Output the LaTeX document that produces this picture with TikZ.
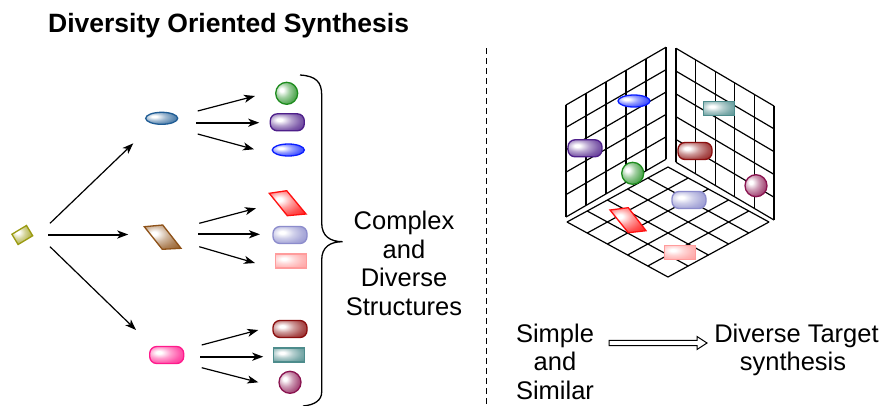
\documentclass[tikz,border=0pt]{standalone}
\usepackage{fontspec}
\setmainfont{Liberation Sans}
\usetikzlibrary{shapes.geometric,arrows.meta,calc}
\colorlet{glosscol}{black}
\pgfdeclareradialshading[glosscol]{gloss}{\pgfpoint{-12bp}{8bp}}{color(0bp)=(white); color(4bp)=(white); color(16bp)=(glosscol!42!white); color(28bp)=(glosscol!72!white); color(40bp)=(glosscol!92!white); color(100bp)=(glosscol)}
\definecolor{olivec}{HTML}{9A9A10}
\definecolor{steelc}{HTML}{1F5C94}
\definecolor{brownc}{HTML}{8E5219}
\definecolor{hotpk}{HTML}{FF1A8C}
\definecolor{greenc}{HTML}{1E8C1E}
\definecolor{purpc}{HTML}{4E1F8A}
\definecolor{bluec}{HTML}{0A1EFF}
\definecolor{redc}{HTML}{FF1010}
\definecolor{lavc}{HTML}{8C8CCC}
\definecolor{ltpk}{HTML}{FF9C9C}
\definecolor{dredc}{HTML}{8A0E0E}
\definecolor{tealc}{HTML}{4D8C8C}
\definecolor{maroc}{HTML}{8A1450}
\begin{document}
\begin{tikzpicture}[x=1pt,y=-1pt,
 gl/.style={draw=#1, line width=1.3pt, shade, shading=gloss, /utils/exec={\colorlet{glosscol}{#1}}},
 ell/.style={ellipse, inner sep=0pt, minimum width=32pt, minimum height=12pt},
 rrect/.style={rectangle, rounded corners=7pt, inner sep=0pt, minimum width=34pt, minimum height=17pt},
 srect/.style={rectangle, inner sep=0pt, minimum width=31pt, minimum height=14pt},
 sph/.style={circle, inner sep=0pt, minimum size=22pt},
 arr/.style={-{Stealth[length=11pt,width=8pt,inset=3pt]}, line width=1.2pt},
 tarr/.style={arr, line width=2pt},
 gridln/.style={line width=1.2pt},
 txt/.style={font=\fontsize{25.5}{30}\selectfont, inner sep=0pt, anchor=base}
]
\useasboundingbox (0,0) rectangle (887,405);
\fill[white] (0,0) rectangle (887,405);

% title
\node[anchor=base west, inner sep=0pt, font=\fontsize{26.5}{30}\selectfont\bfseries] (title) at (48,32.7) {Diversity Oriented Synthesis};

% left: start and intermediates
\node[gl=olivec, rectangle, inner sep=0pt, minimum width=17pt, minimum height=12pt, rotate=31] (s0) at (22.3,235) {};
\node[gl=steelc, ell] (e1) at (161.7,118.3) {};
\path[gl=brownc] (144.3,226.7) -- (162.7,225) -- (181,248.3) -- (162.3,249.3) -- cycle;
\coordinate (p1) at (162.7,237.5);
\node[gl=hotpk, rrect] (r1) at (166.7,355) {};

% products
\node[gl=greenc, sph] (g1) at (286.7,93.3) {};
\node[gl=purpc, rrect] (pu1) at (287.3,122.3) {};
\node[gl=bluec, ell] (b1) at (288.3,150) {};
\path[gl=redc] (269.3,193.3) -- (286.7,190.7) -- (306,214) -- (287.3,215.7) -- cycle;
\coordinate (rp) at (287.3,203.4);
\node[gl=lavc, rrect] (lav1) at (290,235) {};
\node[gl=ltpk, srect] (lp1) at (291,261) {};
\node[gl=dredc, rrect] (dr1) at (290,329) {};
\node[gl=tealc, srect] (t1) at (289.3,355) {};
\node[gl=maroc, sph] (m1) at (290,382.3) {};

% arrows
\draw[arr] ($(s0)+(27.7,-11.7)$) -- ($(e1)+(-28.4,25)$);
\draw[tarr] ($(s0)+(26,-0.5)$) -- ($(p1)+(-34.4,-3)$);
\draw[arr] ($(s0)+(27.7,11.7)$) -- ($(r1)+(-30.7,-25)$);

\draw[arr] ($(e1)+(36,-7.3)$) -- ($(g1)+(-31.7,2.7)$);
\draw[tarr] ($(e1)+(34.3,4.4)$) -- ($(pu1)+(-28,0.4)$);
\draw[arr] ($(e1)+(36,15.7)$) -- ($(b1)+(-34.3,-0.7)$);

\draw[arr] ($(p1)+(36.6,-14.2)$) -- ($(rp)+(-31.3,4.9)$);
\draw[tarr] ($(p1)+(35.6,-3.2)$) -- ($(lav1)+(-30,-0.7)$);
\draw[arr] ($(p1)+(36.6,9.2)$) -- ($(lp1)+(-36,2)$);

\draw[arr] ($(r1)+(35,-10)$) -- ($(dr1)+(-31.7,1)$);
\draw[tarr] ($(r1)+(33.3,1.7)$) -- ($(t1)+(-26,1.7)$);
\draw[arr] ($(r1)+(35,12.7)$) -- ($(m1)+(-31.7,0)$);

% brace
\draw[line width=1.3pt] (300,75) .. controls (316,76) and (321.7,82) .. (321.7,95) -- (321.7,223)
  .. controls (321.7,236) and (330,241.7) .. (342.7,241.7)
  .. controls (330,241.7) and (321.7,247) .. (321.7,260) -- (321.7,392)
  .. controls (321.7,400) and (315,405) .. (303,406);

\node[txt] (c1) at (404,229) {Complex};
\node[txt] (c2) at (404,258) {and};
\node[txt] (c3) at (404,286.7) {Diverse};
\node[txt] (c4) at (404,315) {Structures};

% separator
\draw[line width=1pt, dash pattern=on 6pt off 4pt] (486.5,48) -- (486.5,405);

% cube: left wall
\foreach \i in {0,...,5} {
  \draw[gridln] (566+20*\i,217-11.55*\i) -- ++(0,-112);
  \draw[gridln] (566,217-22.4*\i) -- ++(100,-57.75);
}
% right wall
\foreach \i in {0,...,5} {
  \draw[gridln] (676+19.6*\i,162.3+11.54*\i) -- ++(0,-114);
  \draw[gridln] (676,162.3-22.8*\i) -- ++(98,57.7);
}
% floor
\foreach \k in {0,...,5} {
  \draw[gridln] (668-20.2*\k,167+11*\k) -- ++(101,55);
  \draw[gridln] (668+20.2*\k,167+11*\k) -- ++(-101,55);
}

% cube objects
\node[gl=bluec, ell] (cb) at (634,101) {};
\node[gl=tealc, srect] (ct) at (719.3,108.7) {};
\node[gl=purpc, rrect] (cp) at (585,148.3) {};
\node[gl=dredc, rrect] (cd) at (695,151) {};
\node[gl=greenc, sph] (cg) at (632.7,173.3) {};
\node[gl=maroc, sph] (cm) at (756,185.7) {};
\node[gl=lavc, rrect] (cl) at (689,200) {};
\path[gl=redc] (610,210) -- (628.3,207.7) -- (646,230.7) -- (628.3,232.7) -- cycle;
\node[gl=ltpk, srect] (cpk) at (680,252.3) {};

% bottom right
\node[txt] (sm1) at (555,342) {Simple};
\node[txt] (sm2) at (555,370.5) {and};
\node[txt] (sm3) at (555,399) {Similar};
\node[txt] (dt1) at (796.5,342) {Diverse Target};
\node[txt] (dt2) at (793,370) {synthesis};

\coordinate (ha) at (609,343);
\coordinate (hb) at (707,343);
\draw[line width=1pt, fill=white] (ha) ++(0,-2.6) -- ($(hb)+(-10,-2.6)$) -- ($(hb)+(-10,-6.5)$) -- (hb)
  -- ($(hb)+(-10,6.5)$) -- ($(hb)+(-10,2.6)$) -- ($(ha)+(0,2.6)$) -- cycle;
\end{tikzpicture}
\end{document}
